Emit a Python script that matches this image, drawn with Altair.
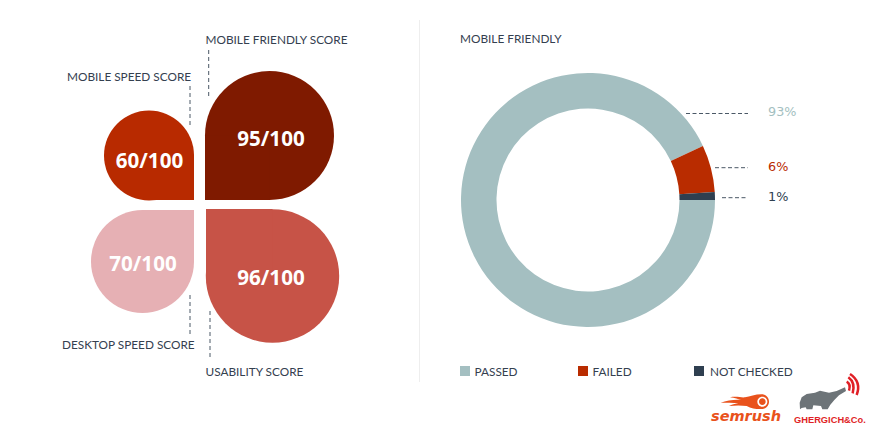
import altair as alt
import pandas as pd
import math

# ---- values ----
score_names = ["MOBILE SPEED SCORE", "MOBILE FRIENDLY SCORE", "DESKTOP SPEED SCORE", "USABILITY SCORE"]
score_values = ["60/100", "95/100", "70/100", "96/100"]
donut_title = "MOBILE FRIENDLY"
donut_categories = ["PASSED", "FAILED", "NOT CHECKED"]
donut_values = [93, 6, 1]
donut_labels = ["93%", "6%", "1%"]

# ---- layout and style (page pixels) ----
W, H = 869, 426
petal_colors = ["#b82a00", "#7f1a00", "#e6b0b4", "#c75347"]
petal_cx = [149, 269.5, 142.5, 272.5]
petal_cy = [155.5, 135.5, 261.5, 276]
petal_r = [45, 64.5, 51.5, 66.7]
corner_x = [194, 205, 194, 206]
corner_y = [200, 200, 210, 209]
score_tx = [149.5, 271, 143, 271]
score_ty = [161.5, 140, 265, 278.5]
name_x = [67, 205.5, 62, 205.5]
name_y = [81, 44, 349, 376]
donut_colors = ["#a4bfc1", "#b92c00", "#2f3f50"]
ink = "#34404f"

xs = alt.Scale(domain=[8, 8 + W], range=[0, W], nice=False, zero=False)
ys = alt.Scale(domain=[8, 8 + H], range=[0, H], nice=False, zero=False)


def X(f="x"):
    return alt.X(f"{f}:Q", scale=xs, axis=None)


def Y(f="y"):
    return alt.Y(f"{f}:Q", scale=ys, axis=None)


petals = pd.DataFrame({
    "x": petal_cx, "y": petal_cy, "r": petal_r, "c": petal_colors,
    "cx": corner_x, "cy": corner_y,
    "tx": score_tx, "ty": score_ty, "score": score_values,
    "nx": name_x, "ny": name_y, "name": score_names,
})

petal_circles = alt.Chart(petals).mark_arc(theta=0, theta2=2 * math.pi).encode(
    x=X(), y=Y(), radius=alt.Radius("r:Q", scale=None, stack=False),
    color=alt.Color("c:N", scale=None),
)
petal_corners = alt.Chart(petals).mark_rect().encode(
    x=X(), x2="cx:Q", y=Y(), y2="cy:Q",
    color=alt.Color("c:N", scale=None),
)
score_text = alt.Chart(petals).mark_text(
    font="Open Sans", fontWeight="bold", fontSize=20.6, align="center", baseline="middle", color="white"
).encode(x=X("tx"), y=Y("ty"), text="score:N")
name_text = alt.Chart(petals).mark_text(
    font="Lato", fontSize=11.8, align="left", baseline="alphabetic", color=ink
).encode(x=X("nx"), y=Y("ny"), text="name:N")

score_rules = pd.DataFrame({
    "x": [190, 208.7, 190, 210],
    "y": [86, 50, 295, 311],
    "y2": [126, 97, 335, 358],
})
rules_v = alt.Chart(score_rules).mark_rule(color="#4a5866", strokeDash=[4, 3], strokeWidth=1).encode(
    x=X(), y=Y(), y2="y2:Q"
)

# donut
donut = pd.DataFrame({
    "cat": donut_categories, "v": donut_values, "c": donut_colors, "o": [0, 1, 2],
    "cx": [588] * 3, "cy": [200] * 3,
    "lx": [768, 768, 768], "ly": [116, 170.5, 201], "lab": donut_labels,
    "rx": [686, 715, 722], "rx2": [748, 748, 748], "ry": [113.5, 167.7, 197.7],
    "sx": [460, 578, 694], "sx2": [470, 588, 704], "sy": [366, 366, 366], "sy2": [376, 376, 376],
    "tx": [474.5, 592.5, 710], "ty": [376, 376, 376],
})
ring = alt.Chart(donut).mark_arc(innerRadius=91.5, outerRadius=127).encode(
    x=X("cx"), y=Y("cy"),
    theta=alt.Theta("v:Q", stack=True, scale=alt.Scale(domain=[0, 100], range=[math.pi / 2, 2.5 * math.pi])),
    order=alt.Order("o:Q"),
    color=alt.Color("c:N", scale=None),
)
pct_text = alt.Chart(donut).mark_text(
    font="DejaVu Sans", fontSize=12.8, align="left", baseline="alphabetic"
).encode(x=X("lx"), y=Y("ly"), text="lab:N", color=alt.Color("c:N", scale=None))
rules_h = alt.Chart(donut).mark_rule(color="#4a5866", strokeDash=[4, 2.5], strokeWidth=1).encode(
    x=X("rx"), x2="rx2:Q", y=Y("ry")
)
legend_boxes = alt.Chart(donut).mark_rect().encode(
    x=X("sx"), x2="sx2:Q", y=Y("sy"), y2="sy2:Q", color=alt.Color("c:N", scale=None)
)
legend_text = alt.Chart(donut).mark_text(
    font="Lato", fontSize=11.8, align="left", baseline="alphabetic", color=ink
).encode(x=X("tx"), y=Y("ty"), text="cat:N")

title_df = pd.DataFrame({"x": [460], "y": [43], "t": [donut_title]})
title_text = alt.Chart(title_df).mark_text(
    font="Lato", fontSize=11.8, align="left", baseline="alphabetic", color=ink
).encode(x=X(), y=Y(), text="t:N")

divider = alt.Chart(pd.DataFrame({"x": [419.5], "y": [20], "y2": [382]})).mark_rule(
    color="#eeeeee", strokeWidth=1
).encode(x=X(), y=Y(), y2="y2:Q")


# logos: decorative glyphs, paths in 3x units around an anchor
def circ(cx, cy, r):
    return f"M{cx-r} {cy}A{r} {r} 0 1 0 {cx+r} {cy}A{r} {r} 0 1 0 {cx-r} {cy}Z"


flame = ("M170 73C150 73 135 80 120 82C110 84 95 78 75 82C90 84 100 88 108 90C90 88 65 92 47 98"
         "C65 98 85 98 100 100C90 102 80 104 72 108C90 106 110 106 125 108C140 117 160 118 172 117"
         "C184 116 192 105 192 95C192 84 184 73 170 73Z")
elephant = ("M285 118L284 98L290 82L305 72L330 68L345 62L372 68L395 63L420 52L423 63L402 76L388 90"
            "L376 104L368 118L352 118L348 108L325 106L322 118L305 118L302 112L290 114Z")
waves = "M425 35Q438 42 432 62M430 22Q452 38 443 70M435 12Q470 35 455 75"
anchor = pd.DataFrame({"x": [705], "y": [370]})
logo_size = 4 / 9


def glyph(path, color):
    return alt.Chart(anchor).mark_point(
        shape=path, size=logo_size, filled=True, fill=color, opacity=1, strokeWidth=0
    ).encode(x=X(), y=Y())


logo_layers = [
    glyph(flame, "#e9521c"),
    glyph(circ(172, 95, 15), "#ffffff"),
    glyph(circ(172, 95, 10), "#e9521c"),
    glyph(elephant, "#6d7478"),
    alt.Chart(anchor).mark_point(
        shape=waves, size=logo_size, filled=False, stroke="#e01f26", strokeWidth=2.5, opacity=1
    ).encode(x=X(), y=Y()),
]
semrush = alt.Chart(pd.DataFrame({"x": [711], "y": [421], "t": ["semrush"]})).mark_text(
    font="DejaVu Sans", fontStyle="oblique", fontWeight="bold", fontSize=14.5,
    align="left", baseline="alphabetic", color="#e9521c"
).encode(x=X(), y=Y(), text="t:N")
ghergich = alt.Chart(pd.DataFrame({"x": [794], "y": [423], "t": ["GHERGICH&Co."]})).mark_text(
    font="Liberation Sans", fontWeight="bold", fontSize=9.3,
    align="left", baseline="alphabetic", color="#e01f26"
).encode(x=X(), y=Y(), text="t:N")

chart = alt.layer(
    divider, petal_circles, petal_corners, score_text, name_text, rules_v,
    ring, rules_h, pct_text, legend_boxes, legend_text, title_text,
    *logo_layers, semrush, ghergich,
).properties(
    width=W, height=H, padding=0, background="white",
    autosize=alt.AutoSizeParams(type="none"),
).configure_view(stroke=None)

chart.save("out.html", embed_options={"renderer": "svg", "actions": False})
